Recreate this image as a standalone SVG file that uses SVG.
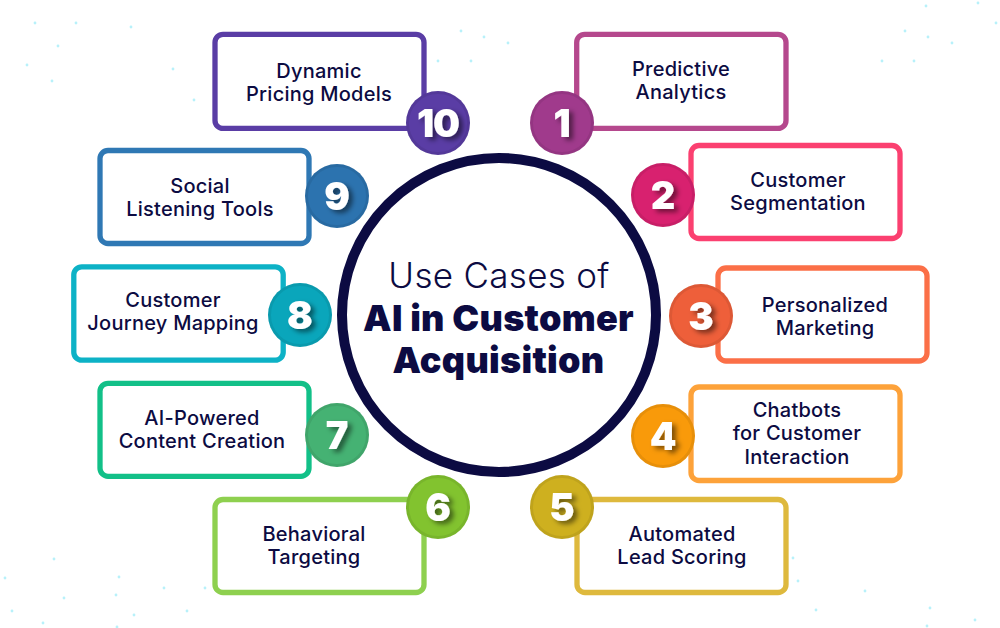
<svg xmlns="http://www.w3.org/2000/svg" width="1000" height="628" viewBox="0 0 1000 628">
<defs>
<filter id="sh" x="-40%" y="-40%" width="200%" height="200%"><feDropShadow dx="4" dy="3" stdDeviation="2.4" flood-color="#000" flood-opacity="0.5"/></filter>
</defs>
<style>
.box{fill:#fff;stroke-width:5.3}
.lbl{font-family:Inter,"Liberation Sans",sans-serif;font-weight:550;font-size:20px;letter-spacing:.25px;fill:#0c0b42;text-anchor:middle}
.num{font-family:Inter,"Liberation Sans",sans-serif;font-weight:900;font-size:38px;fill:#fff;text-anchor:middle;filter:url(#sh)}
.edge{fill:none;stroke:#000;stroke-opacity:.07;stroke-width:3}
.dots circle{fill:#b8f1fa;r:1.4px}
.t1{font-family:Inter,"Liberation Sans",sans-serif;font-weight:300;font-size:35px;letter-spacing:.3px;fill:#0c0b42;text-anchor:middle}
.t2{font-family:Inter,"Liberation Sans",sans-serif;font-weight:900;font-size:36px;letter-spacing:.3px;fill:#0c0b42;text-anchor:middle}
</style>
<rect width="1000" height="628" fill="#fff"/>
<g id="background-dots" class="dots">
<circle cx="35" cy="23"/><circle cx="76" cy="23"/><circle cx="131" cy="27"/><circle cx="58" cy="46"/><circle cx="27" cy="65"/><circle cx="52" cy="81"/><circle cx="173" cy="69"/><circle cx="194" cy="100"/>
<circle cx="461" cy="31"/><circle cx="484" cy="37"/><circle cx="508" cy="43"/><circle cx="438" cy="61"/><circle cx="471" cy="61"/>
<circle cx="926" cy="6"/><circle cx="978" cy="3"/><circle cx="905" cy="31"/><circle cx="928" cy="37"/><circle cx="952" cy="43"/><circle cx="882" cy="61"/><circle cx="914" cy="61"/><circle cx="996" cy="23"/>
<circle cx="54" cy="559"/><circle cx="5" cy="578"/><circle cx="119" cy="577"/><circle cx="116" cy="595"/><circle cx="64" cy="598"/><circle cx="164" cy="588"/><circle cx="205" cy="588"/><circle cx="12" cy="611"/><circle cx="43" cy="623"/><circle cx="134" cy="615"/><circle cx="187" cy="611"/><circle cx="117" cy="627"/>
<circle cx="793" cy="558"/><circle cx="798" cy="581"/><circle cx="865" cy="591"/><circle cx="816" cy="610"/><circle cx="930" cy="608"/><circle cx="975" cy="620"/><circle cx="927" cy="626"/>
</g>
<g id="connectors"/>
<g id="center"><circle cx="499" cy="315" r="157" fill="#fff" stroke="#0c0b42" stroke-width="10"/>
<text class="t1" x="499" y="288">Use Cases of</text>
<text class="t2" x="498.500" y="331">AI in Customer</text>
<text class="t2" x="498.500" y="373">Acquisition</text></g>
<g id="node-1"><rect class="box" x="576.700" y="34.400" width="209.300" height="94" rx="8" stroke="#b5488d"/><circle cx="562" cy="123" r="32" fill="#a03a8c"/><circle class="edge" cx="562" cy="123" r="30.500"/><text class="num" x="562" y="137">1</text><text class="lbl" x="681" y="76">Predictive</text><text class="lbl" x="681" y="99">Analytics</text></g>
<g id="node-2"><rect class="box" x="691" y="145.500" width="209" height="93" rx="8" stroke="#fb4070"/><circle cx="663" cy="195" r="32" fill="#d8216f"/><circle class="edge" cx="663" cy="195" r="30.500"/><text class="num" x="663" y="209">2</text><text class="lbl" x="798" y="187">Customer</text><text class="lbl" x="798" y="210">Segmentation</text></g>
<g id="node-3"><rect class="box" x="718" y="268" width="209" height="93" rx="8" stroke="#fb6f47"/><circle cx="701" cy="316" r="32" fill="#ee5f3a"/><circle class="edge" cx="701" cy="316" r="30.500"/><text class="num" x="701" y="330">3</text><text class="lbl" x="825" y="312">Personalized</text><text class="lbl" x="825" y="335">Marketing</text></g>
<g id="node-4"><rect class="box" x="691" y="387" width="209" height="93.500" rx="8" stroke="#fda23a"/><circle cx="663" cy="436" r="32" fill="#f99a0a"/><circle class="edge" cx="663" cy="436" r="30.500"/><text class="num" x="663" y="450">4</text><text class="lbl" x="797" y="417">Chatbots</text><text class="lbl" x="797" y="440">for Customer</text><text class="lbl" x="797" y="464">Interaction</text></g>
<g id="node-5"><rect class="box" x="577" y="499.500" width="209" height="93" rx="8" stroke="#deb93d"/><circle cx="562" cy="507" r="32" fill="#ceb01f"/><circle class="edge" cx="562" cy="507" r="30.500"/><text class="num" x="562" y="521">5</text><text class="lbl" x="682" y="541">Automated</text><text class="lbl" x="682" y="564">Lead Scoring</text></g>
<g id="node-6"><rect class="box" x="215" y="499.500" width="209" height="93" rx="8" stroke="#8ed04f"/><circle cx="438" cy="507" r="32" fill="#82c32f"/><circle class="edge" cx="438" cy="507" r="30.500"/><text class="num" x="438" y="521">6</text><text class="lbl" x="314" y="541">Behavioral</text><text class="lbl" x="314" y="564">Targeting</text></g>
<g id="node-7"><rect class="box" x="100" y="383.300" width="209" height="93" rx="8" stroke="#12c088"/><circle cx="337" cy="435" r="32" fill="#45b273"/><circle class="edge" cx="337" cy="435" r="30.500"/><text class="num" x="337" y="449">7</text><text class="lbl" x="202" y="425">AI-Powered</text><text class="lbl" x="202" y="448">Content Creation</text></g>
<g id="node-8"><rect class="box" x="73.800" y="266.800" width="209.400" height="93.400" rx="8" stroke="#0db2c6"/><circle cx="300" cy="315" r="32" fill="#0aa6bb"/><circle class="edge" cx="300" cy="315" r="30.500"/><text class="num" x="300" y="329">8</text><text class="lbl" x="173" y="307">Customer</text><text class="lbl" x="173" y="330">Journey Mapping</text></g>
<g id="node-9"><rect class="box" x="100" y="150.500" width="209" height="93" rx="8" stroke="#2f78b4"/><circle cx="337" cy="196" r="32" fill="#2c73af"/><circle class="edge" cx="337" cy="196" r="30.500"/><text class="num" x="337" y="210">9</text><text class="lbl" x="200" y="193">Social</text><text class="lbl" x="200" y="216">Listening Tools</text></g>
<g id="node-10"><rect class="box" x="215" y="34.400" width="209" height="94" rx="8" stroke="#5a3da5"/><circle cx="438" cy="123" r="32" fill="#5a3da5"/><circle class="edge" cx="438" cy="123" r="30.500"/><text class="num" x="438" y="137" style="letter-spacing:-1px">10</text><text class="lbl" x="319" y="78">Dynamic</text><text class="lbl" x="319" y="101">Pricing Models</text></g>
</svg>
